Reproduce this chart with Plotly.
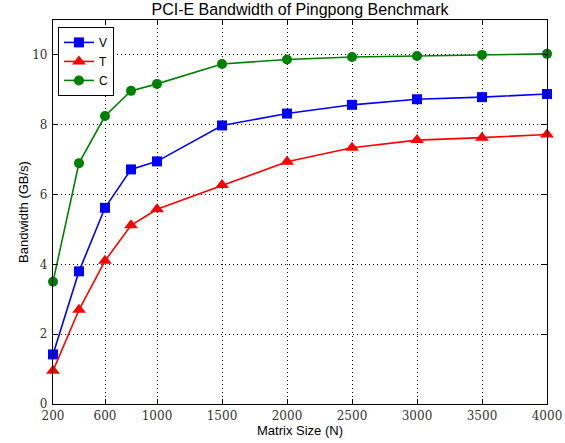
import plotly.graph_objects as go

matrix_size = [200, 400, 600, 800, 1000, 1500, 2000, 2500, 3000, 3500, 4000]
v_bw = [1.42, 3.80, 5.62, 6.72, 6.95, 7.98, 8.32, 8.57, 8.73, 8.79, 8.88]
t_bw = [0.95, 2.70, 4.10, 5.12, 5.58, 6.27, 6.94, 7.34, 7.56, 7.63, 7.72]
c_bw = [3.50, 6.90, 8.25, 8.97, 9.17, 9.74, 9.87, 9.94, 9.97, 10.00, 10.03]
x_ticks = [200, 600, 1000, 1500, 2000, 2500, 3000, 3500, 4000]
y_ticks = [0, 2, 4, 6, 8, 10]

SERIF = "'DejaVu Serif', 'Liberation Serif', serif"
SANS = "'Liberation Sans', Arial, sans-serif"

fig = go.Figure()
series = [
    ("V", v_bw, "#0000ff", "square", 10),
    ("T", t_bw, "#ff0000", "triangle-up", 12),
    ("C", c_bw, "#008000", "circle", 10),
]
for name, vals, col, sym, msize in series:
    fig.add_trace(go.Scatter(
        x=matrix_size, y=vals, name=name, mode="lines+markers",
        line=dict(color=col, width=1.6),
        marker=dict(symbol=sym, size=msize, color=col),
        cliponaxis=False,
    ))

axis_common = dict(
    showline=True, linecolor="black", linewidth=1.2, mirror="ticks",
    ticks="inside", ticklen=5, tickcolor="black",
    showgrid=True, gridcolor="black", griddash="1px,3px", gridwidth=1,
    zeroline=False, automargin=False,
    tickfont=dict(family=SERIF, size=12, color="#333"),
)

fig.update_layout(
    width=565, height=443,
    margin=dict(l=53, r=18, t=20, b=39),
    paper_bgcolor="white", plot_bgcolor="white",
    title=dict(text="PCI-E Bandwidth of Pingpong Benchmark", x=0.5, xanchor="center",
               xref="paper", yref="container", y=1 - 4 / 443, yanchor="top",
               font=dict(family=SANS, size=16, color="black")),
    xaxis=dict(range=[200, 4000], tickvals=x_ticks, ticklabelstandoff=0,
               title=dict(text="Matrix Size (N)", standoff=4,
                          font=dict(family=SANS, size=13, color="black")),
               **axis_common),
    yaxis=dict(range=[0, 11], tickvals=y_ticks, ticklabelstandoff=2,
               title=dict(text="Bandwidth (GB/s)", standoff=0,
                          font=dict(family=SANS, size=13, color="black")),
               **axis_common),
    legend=dict(x=0.01, y=0.982, xanchor="left", yanchor="top",
                bgcolor="white", bordercolor="black", borderwidth=1,
                font=dict(family=SANS, size=12, color="black"),
                itemwidth=30, tracegroupgap=0),
    showlegend=True,
)

fig.write_html("out.html", config={"displayModeBar": False},
               post_script="document.body.style.margin='0';document.body.style.overflow='hidden';")
